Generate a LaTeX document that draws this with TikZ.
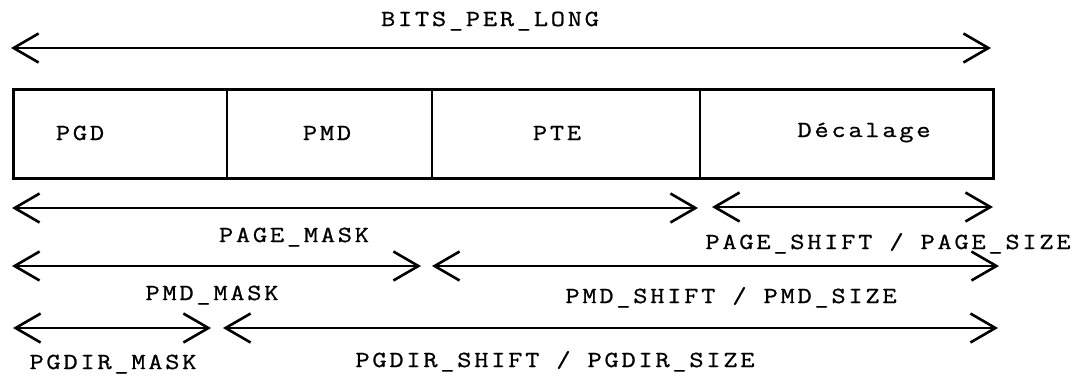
\documentclass[tikz,border=0pt]{standalone}
\usepackage{fontspec}
\newfontfamily\labelfont[FakeStretch=1.2,LetterSpace=12,FakeBold=0.9]{Latin Modern Mono}
\usetikzlibrary{arrows.meta}
\tikzset{
  lbl/.style={font={\labelfont\fontsize{23}{28}\selectfont}, inner sep=0pt, anchor=base},
  barb/.tip={Straight Barb[length=25pt,width=29pt,line width=2.6pt]},
  span/.style={line width=2.6pt, barb-barb},
  frame/.style={line width=3pt},
  divider/.style={line width=2pt},
}
\begin{document}
\begin{tikzpicture}[x=1pt,y=-1pt]
  \useasboundingbox (0,0) rectangle (1081,376);

  % address word and its fields
  \draw[frame] (13,89) rectangle (993,178);
  \draw[divider] (227,89) -- (227,178);
  \draw[divider] (432,89) -- (432,178);
  \draw[divider] (700,89) -- (700,178);

  \node[lbl] (pgd) at (80,140) {PGD};
  \node[lbl] (pmd) at (327,140) {PMD};
  \node[lbl] (pte) at (557,140) {PTE};
  \node[lbl] (dec) at (864,137) {Décalage};

  % whole word width
  \coordinate (bL) at (11,48);
  \coordinate (bR) at (991,48);
  \draw[span] (bL) -- (bR);
  \node[lbl] (bits) at (490,26) {BITS\_PER\_LONG};

  % page level
  \coordinate (p1L) at (12,208);
  \coordinate (p1R) at (698,208);
  \coordinate (p2L) at (712,207);
  \coordinate (p2R) at (993,207);
  \draw[span] (p1L) -- (p1R);
  \draw[span] (p2L) -- (p2R);
  \node[lbl] (pagemask) at (294,242) {PAGE\_MASK};
  \node[lbl] (pageshift) at (888,249) {PAGE\_SHIFT / PAGE\_SIZE};

  % middle directory level
  \coordinate (m1L) at (12,266);
  \coordinate (m1R) at (421,266);
  \coordinate (m2L) at (432,266);
  \coordinate (m2R) at (999,266);
  \draw[span] (m1L) -- (m1R);
  \draw[span] (m2L) -- (m2R);
  \node[lbl] (pmdmask) at (212,300) {PMD\_MASK};
  \node[lbl] (pmdshift) at (731,303) {PMD\_SHIFT / PMD\_SIZE};

  % global directory level
  \coordinate (g1L) at (13,328);
  \coordinate (g1R) at (211,328);
  \coordinate (g2L) at (223,328);
  \coordinate (g2R) at (998,328);
  \draw[span] (g1L) -- (g1R);
  \draw[span] (g2L) -- (g2R);
  \node[lbl] (pgdirmask) at (113,369) {PGDIR\_MASK};
  \node[lbl] (pgdirshift) at (555,367) {PGDIR\_SHIFT / PGDIR\_SIZE};
\end{tikzpicture}
\end{document}
